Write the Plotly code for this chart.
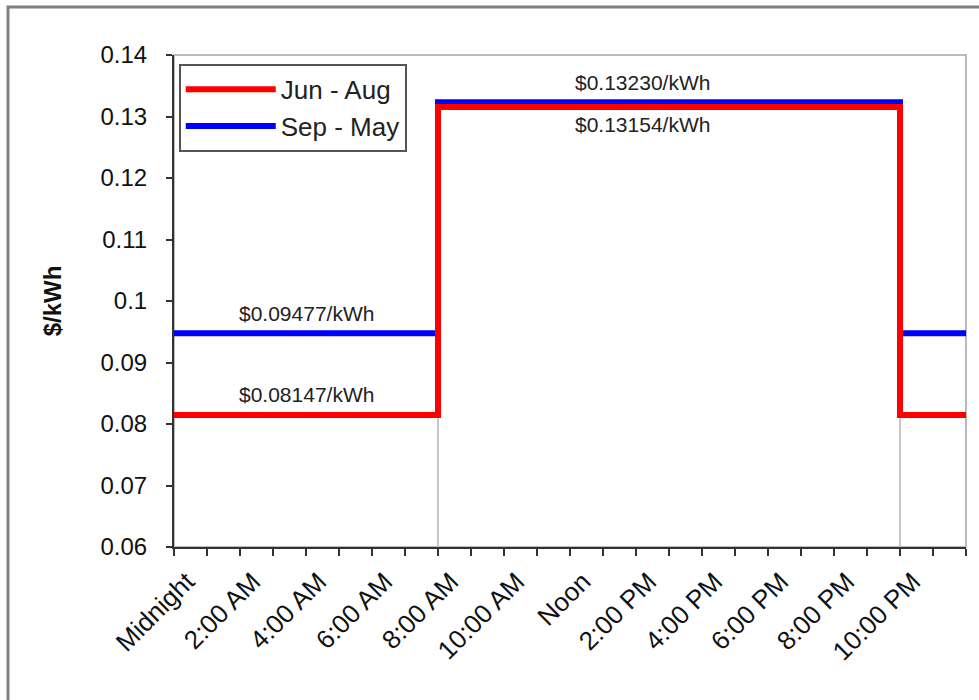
import plotly.graph_objects as go

# Hourly time-of-use rates, $/kWh
hours = [0, 8, 22, 24]
summer_rates = [0.08147, 0.13154, 0.08147, 0.08147]   # Jun - Aug
winter_rates = [0.09477, 0.13230, 0.09477, 0.09477]   # Sep - May
peak_hours = [8, 22]

tick_hours = list(range(0, 24, 2))
tick_labels = ["Midnight", "2:00 AM", "4:00 AM", "6:00 AM", "8:00 AM", "10:00 AM",
               "Noon", "2:00 PM", "4:00 PM", "6:00 PM", "8:00 PM", "10:00 PM"]

FONT = "Liberation Sans, Arial, sans-serif"

fig = go.Figure()

# winter first so the summer line sits on top
fig.add_trace(go.Scatter(
    x=hours, y=winter_rates, mode="lines", name="Sep - May",
    line=dict(color="#0000FF", width=6, shape="hv"), legendrank=2,
))
fig.add_trace(go.Scatter(
    x=hours, y=summer_rates, mode="lines", name="Jun - Aug",
    line=dict(color="#FF0000", width=6, shape="hv"), legendrank=1,
))

shapes = [
    # plot area border (top/right light grey)
    dict(type="rect", xref="paper", yref="paper", x0=0, x1=1, y0=0, y1=1,
         line=dict(color="#BBBBBB", width=2), layer="below"),
    # outer chart frame
    dict(type="rect", xref="paper", yref="paper", x0=-0.2096, x1=1.5, y0=-1.0, y1=1.0976,
         line=dict(color="#808080", width=3), layer="below"),
]
# drop lines at the rate changes
for h in peak_hours:
    shapes.append(dict(type="line", xref="x", yref="y", x0=h, x1=h,
                       y0=0.06, y1=summer_rates[1],
                       line=dict(color="#C8C8C8", width=2), layer="below"))

ann_font = dict(family=FONT, size=21, color="#222222")
annotations = [
    dict(x=14.2, y=winter_rates[1], text=f"${winter_rates[1]:.5f}/kWh", showarrow=False,
         yshift=20, font=ann_font),
    dict(x=14.2, y=summer_rates[1], text=f"${summer_rates[1]:.5f}/kWh", showarrow=False,
         yshift=-17, font=ann_font),
    dict(x=4, y=winter_rates[0], text=f"${winter_rates[0]:.5f}/kWh", showarrow=False,
         yshift=20, font=ann_font),
    dict(x=4, y=summer_rates[0], text=f"${summer_rates[0]:.5f}/kWh", showarrow=False,
         yshift=20, font=ann_font),
]

fig.update_layout(
    width=979, height=700,
    margin=dict(l=174, r=13, t=55, b=153),
    paper_bgcolor="white", plot_bgcolor="white",
    font=dict(family=FONT, color="#111111"),
    shapes=shapes, annotations=annotations,
    legend=dict(
        x=0.006, y=0.982, xanchor="left", yanchor="top",
        bgcolor="white", bordercolor="#555555", borderwidth=2,
        font=dict(family=FONT, size=26, color="#222222"),
        itemwidth=90, tracegroupgap=0,
    ),
    showlegend=True,
)

fig.update_xaxes(
    range=[0, 24], tickmode="array", tickvals=tick_hours, ticktext=tick_labels,
    tickangle=-45, ticks="outside", ticklen=7, tickcolor="#333333", tickwidth=1.5,
    minor=dict(dtick=1, ticks="outside", ticklen=7, tickcolor="#333333", tickwidth=1.5),
    showline=True, linecolor="#333333", linewidth=2, showgrid=False, zeroline=False,
    tickfont=dict(family=FONT, size=26, color="#111111"),
    ticklabelshift=13, ticklabelstandoff=0,
)
fig.update_yaxes(
    range=[0.06, 0.14], tick0=0.06, dtick=0.01, tickformat="~g",
    ticks="outside", ticklen=6, tickcolor="#333333", tickwidth=1.5,
    showline=True, linecolor="#333333", linewidth=2, showgrid=False, zeroline=False,
    tickfont=dict(family=FONT, size=24, color="#111111"),
    ticklabelstandoff=14,
    title=dict(text="<b>$/kWh</b>", font=dict(family=FONT, size=24, color="#111111"),
               standoff=32),
)

fig.write_html("out.html")
